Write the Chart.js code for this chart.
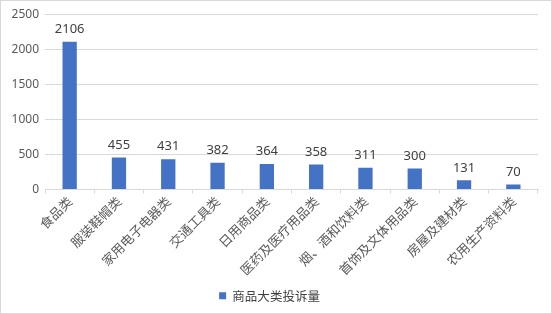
<!DOCTYPE html>
<html><head><meta charset="utf-8">
<script src="https://cdn.jsdelivr.net/npm/chart.js@4"></script>
<style>
html,body{margin:0;padding:0;background:#fff;}
#wrap{position:absolute;left:0;top:0;width:550px;height:312px;border:1px solid #d9d9d9;}
</style></head>
<body><div id="wrap"><canvas id="c" width="550" height="312"></canvas></div>
<script>
const categories = ['食品类','服装鞋帽类','家用电子电器类','交通工具类','日用商品类','医药及医疗用品类','烟、酒和饮料类','首饰及文体用品类','房屋及建材类','农用生产资料类'];
const values = [2106,455,431,382,364,358,311,300,131,70];
const seriesName = '商品大类投诉量';
const yTicks = [0,500,1000,1500,2000,2500];

const labelPlugin = {
  id:'vals',
  afterDatasetsDraw(chart){
    const ctx = chart.ctx;
    const meta = chart.getDatasetMeta(0);
    ctx.save();
    ctx.font = '13px "Noto Sans", "DejaVu Sans", sans-serif';
    ctx.fillStyle = '#404040';
    ctx.textAlign = 'center';
    ctx.textBaseline = 'bottom';
    meta.data.forEach((b,i)=>{
      ctx.fillText(String(values[i]), b.x, b.y - 6);
    });
    ctx.restore();
  }
};

new Chart(document.getElementById('c'), {
  type:'bar',
  data:{labels:categories, datasets:[{label:seriesName, data:values, backgroundColor:'#4472c4', barPercentage:0.58, categoryPercentage:0.5}]},
  options:{
    responsive:false, animation:false,
    layout:{padding:{left:0,right:13,top:8,bottom:1}},
    plugins:{
      legend:{position:'bottom', labels:{boxWidth:7, boxHeight:7, color:'#404040', font:{size:12.5, family:'"Noto Sans CJK SC", sans-serif'}, padding:10}},
      tooltip:{enabled:false}
    },
    scales:{
      y:{min:0,max:2500,
        afterBuildTicks(s){ s.ticks = yTicks.map(v=>({value:v})); },
        afterFit(s){ s.width = 44; },
        ticks:{color:'#595959', font:{size:12, family:'"Noto Sans", sans-serif'}, padding:6, callback:(v)=>String(v)},
        grid:{color:'#d9d9d9', drawTicks:false},
        border:{display:false}
      },
      x:{
        afterFit(s){ s.height = 90; },
        ticks:{color:'#595959', minRotation:45, maxRotation:45, autoSkip:false, font:{size:13, family:'"Noto Sans CJK SC", serif'}, padding:0},
        grid:{offset:true, drawOnChartArea:false, color:'#d9d9d9', tickLength:4},
        border:{display:true, color:'#d9d9d9'}
      }
    }
  },
  plugins:[labelPlugin]
});
</script></body></html>
